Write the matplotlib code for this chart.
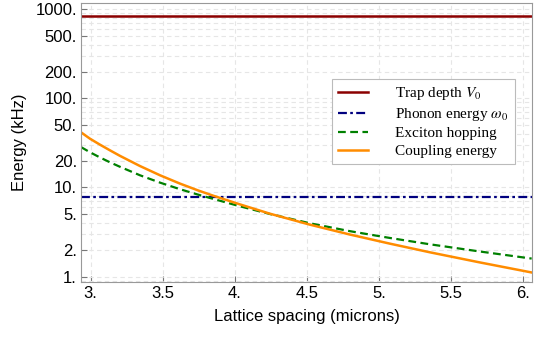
import numpy as np
import matplotlib.pyplot as plt
from matplotlib.ticker import FixedLocator, FixedFormatter, LogLocator, NullFormatter

# values
spacing = [2.934, 2.997, 3.066, 3.135, 3.205, 3.343, 3.482, 3.621, 3.746, 3.850,
           4.037, 4.245, 4.522, 4.799, 5.076, 5.354, 5.700, 6.060]
coupling = [41.6, 35.2, 30.2, 26.1, 22.6, 17.4, 13.7, 11.04, 9.26, 8.09,
            6.45, 5.07, 3.82, 2.96, 2.34, 1.87, 1.44, 1.11]
hopping = [28.4, 24.8, 21.7, 19.15, 17.04, 13.7, 11.33, 9.55, 8.31, 7.45,
           6.14, 5.03, 3.96, 3.23, 2.71, 2.30, 1.91, 1.59]
trap_depth = 850.0
phonon = 7.87

yticks = [1, 2, 5, 10, 20, 50, 100, 200, 500, 1000]
ylabels = ['1.', '2.', '5.', '10.', '20.', '50.', '100.', '200.', '500.', '1000.']
xticks = [3.0, 3.5, 4.0, 4.5, 5.0, 5.5, 6.0]
xlabels = ['3.', '3.5', '4.', '4.5', '5.', '5.5', '6.']

plt.rcParams['font.family'] = ['Liberation Sans', 'DejaVu Sans']
plt.rcParams['mathtext.fontset'] = 'stix'
fig = plt.figure(figsize=(5.45, 3.4), dpi=100)
ax = fig.add_axes([0.1486, 0.1706, 0.8275, 0.8206])
ax.set_yscale('log')
x0, x1 = 2.934, 6.062
ax.set_xlim(x0, x1)
ax.set_ylim(0.868, 1177)

ax.plot([x0, x1], [trap_depth] * 2, color='#8b0000', lw=1.8, label=r'Trap depth $V_0$')
ax.plot([x0, x1], [phonon] * 2, color='#00007f', lw=1.6, ls=(0, (4, 1.5, 1.2, 1.5)),
        label=r'Phonon energy $\omega_0$')
ax.plot(spacing, hopping, color='#008000', lw=1.6, ls=(0, (3.5, 2)), label='Exciton hopping')
ax.plot(spacing, coupling, color='#ff8c00', lw=1.8, label='Coupling energy')

ax.yaxis.set_major_locator(FixedLocator(yticks))
ax.yaxis.set_major_formatter(FixedFormatter(ylabels))
ax.yaxis.set_minor_locator(LogLocator(base=10, subs=np.arange(2, 10)))
ax.yaxis.set_minor_formatter(NullFormatter())
ax.xaxis.set_major_locator(FixedLocator(xticks))
ax.xaxis.set_major_formatter(FixedFormatter(xlabels))

ax.grid(True, which='major', axis='x', color='#e6e6e6', ls=(0, (4, 3)), lw=0.8)
ax.grid(True, which='both', axis='y', color='#e6e6e6', ls=(0, (4, 3)), lw=0.8)
for s in ax.spines.values():
    s.set_color('#999999')
ax.tick_params(which='both', direction='in', color='#777777', labelsize=12)
ax.tick_params(which='major', length=4, pad=3)
ax.tick_params(which='minor', length=0)

ax.set_xlabel('Lattice spacing (microns)', fontsize=12, labelpad=6)
ax.set_ylabel('Energy (kHz)', fontsize=12, labelpad=6)

leg = ax.legend(loc='upper left', bbox_to_anchor=(0.556, 0.7276), frameon=True, fancybox=False,
                edgecolor='#bbbbbb', framealpha=1, handlelength=1.96, handletextpad=1.8,
                borderpad=0.4, labelspacing=0.25, borderaxespad=0,
                prop={'family': ['Liberation Serif'], 'size': 11})
leg.get_frame().set_linewidth(0.8)

fig.savefig('out.png', dpi=100)
